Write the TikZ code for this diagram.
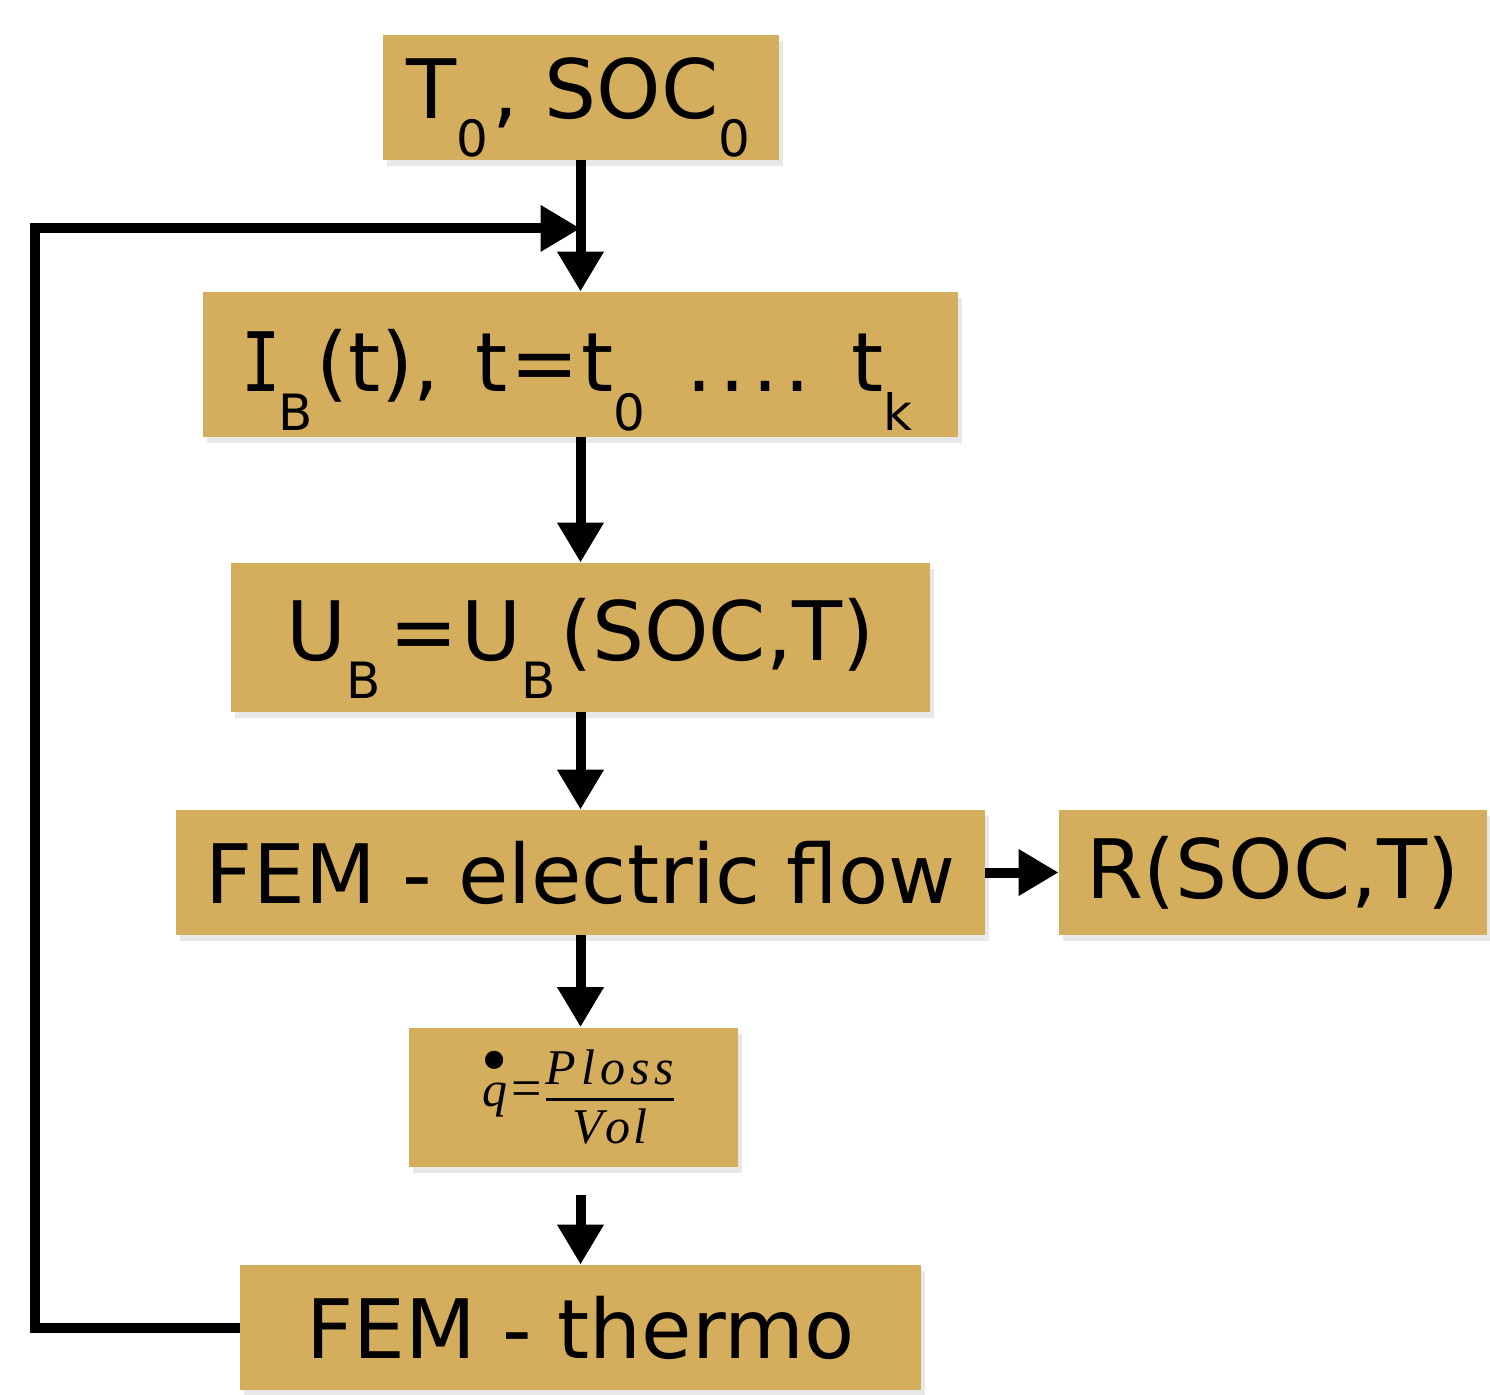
\documentclass[tikz,border=0pt]{standalone}
\usepackage{fontspec}
\usepackage{graphicx}
\setmainfont{DejaVu Sans}
\newfontfamily\eqfont{Liberation Serif}
\newfontfamily\monof{DejaVu Sans Mono}
\usetikzlibrary{arrows.meta,shadows,calc}
\definecolor{boxgold}{RGB}{212,174,93}
\newcommand{\sbx}[1]{\raisebox{-0.47em}{\fontsize{25}{25}\selectfont #1}\kern0.05em}
\newcommand{\eqit}{\eqfont\itshape\fontsize{25}{30}\selectfont}
\newcommand{\serI}{\makebox[0.42em]{\scalebox{0.8}[1]{\monof I}}}
\newcommand{\fracbox}{\vbox{\halign{\hfil##\hfil\cr
  \eqit P\kern.1em l\kern.1em o\kern.1em s\kern.1em s\cr
  \noalign{\kern6.5pt\hrule height1.4pt\kern4pt}
  \eqit V\kern.05em o\kern.05em l\cr}}}
\begin{document}
\begin{tikzpicture}[x=0.5pt,y=-0.5pt,
  box/.style={fill=boxgold, inner sep=0pt, align=center,
    font=\fontsize{41}{49}\selectfont,
    drop shadow={shadow xshift=2pt, shadow yshift=-3pt, opacity=0.18}},
  arr/.style={line width=5pt, -{Triangle[length=20pt,width=22pt]}}]
\useasboundingbox (0,0) rectangle (1490,1394);
\node[box, minimum width=198pt, minimum height=62.5pt, text height=30pt, text depth=9.5pt] (t0) at (580.5,97.5)
  {T\sbx{0}, SOC\sbx{0}};
\node[box, minimum width=377.5pt, minimum height=72.5pt, text height=30pt, text depth=3pt] (ib) at (580.5,364.5)
  {\serI\sbx{B}(t),\hspace{0.45em}t\kern0.03em=\kern0.03em t\sbx{0}\hspace{0.45em}.\kern0.08em.\kern0.08em.\kern0.08em.\hspace{0.5em}t\sbx{k}};
\node[box, minimum width=349.5pt, minimum height=74.5pt, text height=30pt, text depth=7.5pt] (ub) at (580.5,637.5)
  {U\sbx{B}\kern0.05em=\kern0.05em U\sbx{B}(SOC,T)};
\node[box, minimum width=404.5pt, minimum height=62.5pt] (fe) at (580.5,872.5)
  {F\kern0.01em E\kern0.01em M - electric flow};
\node[box, minimum width=214pt, minimum height=62.5pt] (r) at (1273,872.5)
  {R(S\kern0.01em O\kern0.01em C,T)};
\node[box, minimum width=164.5pt, minimum height=69.5pt] (q) at (573.5,1097)
  {\kern4.5pt\eqit\rlap{\kern-0.6pt\raisebox{10.5pt}{\fontsize{38}{38}\selectfont\textbullet}}q\kern2pt\upshape{\fontsize{27}{30}\selectfont=}\kern2pt\raisebox{-18.5pt}{\fracbox}};
\node[box, minimum width=340.5pt, minimum height=62.5pt] (th) at (580.5,1327.5)
  {FEM - thermo};
\path (t0.south) ++(0,68) coordinate (j);
\draw[arr] (t0.south) -- (ib.north);
\draw[arr] (th.west) -- ++(-205,0) |- (j);
\draw[arr] (ib.south) -- (ub.north);
\draw[arr] (ub.south) -- (fe.north);
\draw[arr] (fe.east) -- (r.west);
\draw[arr] (fe.south) -- (fe.south |- q.north);
\draw[arr] ($(q.south -| th.north)+(0,28)$) -- (th.north);
\end{tikzpicture}
\end{document}
